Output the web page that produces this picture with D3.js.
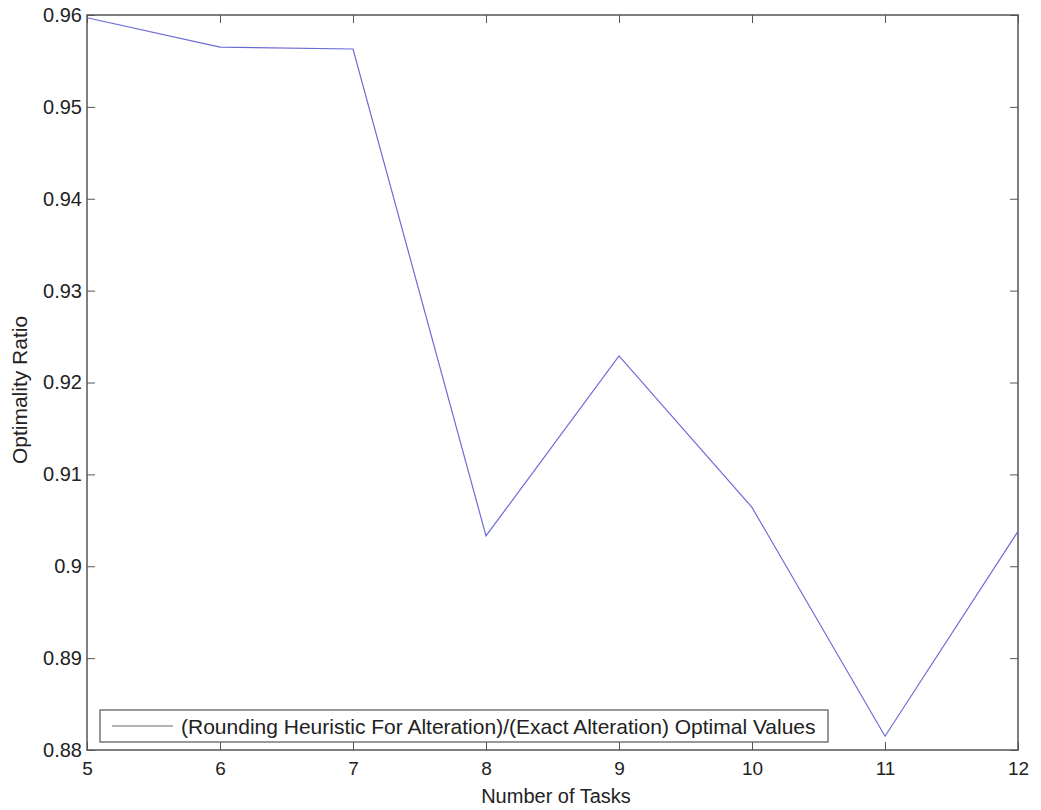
<!DOCTYPE html>
<html>
<head>
<meta charset="utf-8">
<script src="https://cdn.jsdelivr.net/npm/d3@7"></script>
<style>
  body { margin: 0; background: #fff; }
  svg text { font-family: "Liberation Sans", Arial, sans-serif; fill: #222; }
</style>
</head>
<body>
<div id="canvas"></div>
<script>
// data
const tasks = [5, 6, 7, 8, 9, 10, 11, 12];
const ratios = [0.9597, 0.9565, 0.9563, 0.9033, 0.9229, 0.9064, 0.8815, 0.9038];
const yTicks = [0.88, 0.89, 0.9, 0.91, 0.92, 0.93, 0.94, 0.95, 0.96];
const legendLabel = '(Rounding Heuristic For Alteration)/(Exact Alteration) Optimal Values';

const width = 1041, height = 810;
const plotLeft = 87, plotRight = 1018, plotTop = 15, plotBottom = 750;

const svg = d3.select('#canvas')
    .append('svg')
    .attr('width', width)
    .attr('height', height);

const x = d3.scaleLinear().domain([5, 12]).range([plotLeft, plotRight]);
const y = d3.scaleLinear().domain([0.88, 0.96]).range([plotBottom, plotTop]);

const axisColor = '#555';

// bottom axis with inward ticks
const xAxis = svg.append('g')
    .attr('transform', `translate(0,${plotBottom})`)
    .call(d3.axisBottom(x).tickValues(tasks).tickSize(-8).tickPadding(12).tickFormat(d3.format('d')));
xAxis.select('.domain').remove();
xAxis.selectAll('line').attr('stroke', axisColor);
xAxis.selectAll('text').style('font-size', '19px');

const xTop = svg.append('g')
    .attr('transform', `translate(0,${plotTop})`)
    .call(d3.axisTop(x).tickValues(tasks).tickSize(-8).tickFormat(''));
xTop.select('.domain').remove();
xTop.selectAll('line').attr('stroke', axisColor);

const yAxis = svg.append('g')
    .attr('transform', `translate(${plotLeft},0)`)
    .call(d3.axisLeft(y).tickValues(yTicks).tickSize(-8).tickPadding(5).tickFormat(d => String(+d.toFixed(2))));
yAxis.select('.domain').remove();
yAxis.selectAll('line').attr('stroke', axisColor);
yAxis.selectAll('text').style('font-size', '20px');

const yRight = svg.append('g')
    .attr('transform', `translate(${plotRight},0)`)
    .call(d3.axisRight(y).tickValues(yTicks).tickSize(-8).tickFormat(''));
yRight.select('.domain').remove();
yRight.selectAll('line').attr('stroke', axisColor);

// plot box
svg.append('rect')
    .attr('x', plotLeft).attr('y', plotTop)
    .attr('width', plotRight - plotLeft).attr('height', plotBottom - plotTop)
    .attr('fill', 'none')
    .attr('stroke', axisColor)
    .attr('stroke-width', 1.5);

// series line
const line = d3.line()
    .x((d, i) => x(tasks[i]))
    .y(d => y(d));

svg.append('path')
    .datum(ratios)
    .attr('d', line)
    .attr('fill', 'none')
    .attr('stroke', '#6b6bd6')
    .attr('stroke-width', 1.2);

// legend
const legend = svg.append('g').attr('transform', 'translate(100,710)');
legend.append('rect')
    .attr('width', 728).attr('height', 32)
    .attr('fill', '#fff')
    .attr('stroke', axisColor)
    .attr('stroke-width', 1.2);
legend.append('line')
    .attr('x1', 12).attr('x2', 73)
    .attr('y1', 16).attr('y2', 16)
    .attr('stroke', '#666');
legend.append('text')
    .attr('x', 81).attr('y', 24)
    .style('font-size', '21px')
    .text(legendLabel);

// axis titles
svg.append('text')
    .attr('x', 556)
    .attr('y', 803)
    .attr('text-anchor', 'middle')
    .style('font-size', '20px')
    .text('Number of Tasks');

svg.append('text')
    .attr('transform', 'translate(27,390) rotate(-90)')
    .attr('text-anchor', 'middle')
    .style('font-size', '21px')
    .text('Optimality Ratio');
</script>
</body>
</html>
